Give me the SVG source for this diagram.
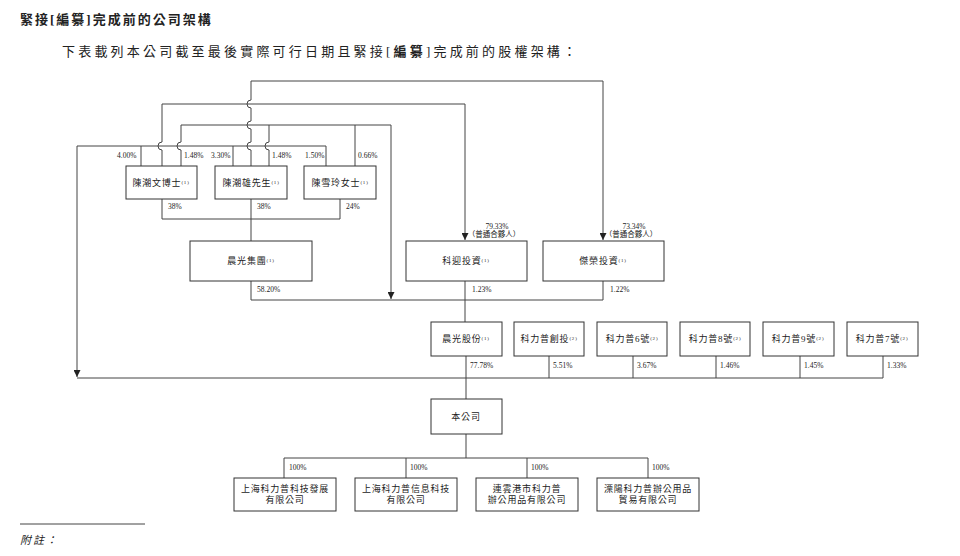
<svg xmlns="http://www.w3.org/2000/svg" width="960" height="556" viewBox="0 0 960 556">
<style>
text{font-family:"Liberation Serif","Noto Sans CJK TC",serif;fill:#222}
.b{fill:#fff;stroke:#333;stroke-width:1}
.l{fill:none;stroke:#444;stroke-width:1}
.t{font-size:9px;text-anchor:middle;letter-spacing:0.8px}
.p{font-size:7.5px}
.s{font-size:5px}
</style>
<defs><marker id="a" viewBox="0 0 8 8" refX="8" refY="4" markerWidth="7" markerHeight="7" orient="auto"><path d="M0,0L8,4L0,8z" fill="#222"/></marker></defs>
<text x="20" y="24" font-size="13" font-weight="bold" letter-spacing="2">緊接[編纂]完成前的公司架構</text>
<text x="62" y="56" font-size="13" letter-spacing="3.2">下表載列本公司截至最後實際可行日期且緊接[<tspan font-weight="bold">編纂</tspan>]完成前的股權架構：</text>
<g id="connectors" class="l">
<path d="M251,166V150a4,4 0 0 1 0,-8V129a4,4 0 0 1 0,-8V108a4,4 0 0 1 0,-8V81H603V240" marker-end="url(#a)"/>
<path d="M162,166V150a4,4 0 0 1 0,-8V104H465V240" marker-end="url(#a)"/>
<path d="M181,166V150a4,4 0 0 1 0,-8V125H391V299" marker-end="url(#a)"/>
<path d="M269,166V150a4,4 0 0 1 0,-8V125M355,166V125"/>
<path d="M141,166V146H326V166M233,166V146M141,146H77V377" marker-end="url(#a)"/>
<path d="M162,199V219H340V199M251,199V241"/>
<path d="M251,281V300H603V281M465,281V322"/>
<path d="M77,378H883V356M549,356V378M633,356V378M716,356V378M800,356V378M466,356V399"/>
<path d="M466,434V458M284,458H648M284,458V478M406,458V478M527,458V478M648,458V478"/>
<path d="M20,524H145"/>
</g>
<g class="p">
<text x="117" y="158">4.00%</text><text x="184" y="158">1.48%</text>
<text x="211" y="158">3.30%</text><text x="272" y="158">1.48%</text>
<text x="305" y="158">1.50%</text><text x="358" y="158">0.66%</text>
<text x="168" y="209">38%</text><text x="257" y="209">38%</text><text x="346" y="209">24%</text>
<text x="257" y="292">58.20%</text><text x="472" y="292">1.23%</text><text x="610" y="292">1.22%</text>
<text x="470" y="368">77.78%</text><text x="553" y="368">5.51%</text><text x="637" y="368">3.67%</text>
<text x="720" y="368">1.46%</text><text x="804" y="368">1.45%</text><text x="887" y="368">1.33%</text>
<text x="289" y="470">100%</text><text x="410" y="470">100%</text><text x="531" y="470">100%</text><text x="652" y="470">100%</text>
</g>
<g class="p" text-anchor="middle">
<text x="497" y="229">79.33%</text><text x="494" y="237">（普通合夥人）</text>
<text x="634" y="229">73.34%</text><text x="631" y="237">（普通合夥人）</text>
</g>
<g id="n1"><rect class="b" x="126" y="166" width="71" height="33"/><text class="t" x="161" y="186">陳潮文博士<tspan class="s" dy="-2">(1)</tspan></text></g>
<g id="n2"><rect class="b" x="215" y="166" width="72" height="33"/><text class="t" x="251" y="186">陳潮雄先生<tspan class="s" dy="-2">(1)</tspan></text></g>
<g id="n3"><rect class="b" x="304" y="166" width="72" height="33"/><text class="t" x="340" y="186">陳雪玲女士<tspan class="s" dy="-2">(1)</tspan></text></g>
<g id="n4"><rect class="b" x="190" y="241" width="122" height="40"/><text class="t" x="251" y="264">晨光集團<tspan class="s" dy="-2">(1)</tspan></text></g>
<g id="n5"><rect class="b" x="406" y="241" width="121" height="40"/><text class="t" x="466" y="264">科迎投資<tspan class="s" dy="-2">(1)</tspan></text></g>
<g id="n6"><rect class="b" x="543" y="241" width="121" height="40"/><text class="t" x="603" y="264">傑榮投資<tspan class="s" dy="-2">(1)</tspan></text></g>
<g id="n7"><rect class="b" x="431" y="322" width="71" height="34"/><text class="t" x="466" y="342">晨光股份<tspan class="s" dy="-2">(1)</tspan></text></g>
<g id="n8"><rect class="b" x="514" y="322" width="70" height="34"/><text class="t" x="549" y="342">科力普創投<tspan class="s" dy="-2">(2)</tspan></text></g>
<g id="n9"><rect class="b" x="597" y="322" width="70" height="34"/><text class="t" x="632" y="342">科力普6號<tspan class="s" dy="-2">(2)</tspan></text></g>
<g id="n10"><rect class="b" x="680" y="322" width="70" height="34"/><text class="t" x="715" y="342">科力普8號<tspan class="s" dy="-2">(2)</tspan></text></g>
<g id="n11"><rect class="b" x="763" y="322" width="71" height="34"/><text class="t" x="798" y="342">科力普9號<tspan class="s" dy="-2">(2)</tspan></text></g>
<g id="n12"><rect class="b" x="847" y="322" width="71" height="34"/><text class="t" x="882" y="342">科力普7號<tspan class="s" dy="-2">(2)</tspan></text></g>
<g id="n13"><rect class="b" x="431" y="399" width="71" height="35"/><text class="t" x="466" y="420">本公司</text></g>
<g id="n14"><rect class="b" x="234" y="478" width="102" height="33"/><text class="t" x="285" y="492">上海科力普科技發展</text><text class="t" x="285" y="503">有限公司</text></g>
<g id="n15"><rect class="b" x="355" y="478" width="102" height="33"/><text class="t" x="406" y="492">上海科力普信息科技</text><text class="t" x="406" y="503">有限公司</text></g>
<g id="n16"><rect class="b" x="476" y="478" width="102" height="33"/><text class="t" x="527" y="492">連雲港市科力普</text><text class="t" x="527" y="503">辦公用品有限公司</text></g>
<g id="n17"><rect class="b" x="597" y="478" width="102" height="33"/><text class="t" x="648" y="492">溧陽科力普辦公用品</text><text class="t" x="648" y="503">貿易有限公司</text></g>
<text x="20" y="544" font-size="11" font-style="italic" letter-spacing="2">附註：</text>
</svg>
